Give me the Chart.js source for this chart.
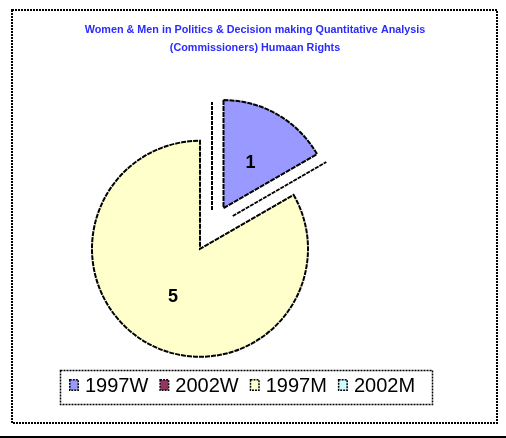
<!DOCTYPE html>
<html><head><meta charset="utf-8">
<script src="https://cdn.jsdelivr.net/npm/chart.js@4.4.1/dist/chart.umd.min.js"></script>
<style>html,body{margin:0;padding:0;background:#fff;overflow:hidden}canvas{display:block}</style>
</head><body>
<canvas id="c" width="506" height="438"></canvas>
<script>
// ---- data ----
const categories = ['1997W', '2002W', '1997M', '2002M'];
const values = [1, 0, 5, 0];
const sliceColors = ['#9999FF', '#993366', '#FFFFCC', '#CCFFFF'];
const titleLines = ['Women & Men in Politics & Decision making Quantitative Analysis', '(Commissioners) Humaan Rights'];

// ---- style ----
const EXPLODE = [23, 24, 24, 18];
const FONT = '"Liberation Sans", Arial, sans-serif';

const explodePlugin = {
  id: 'explode',
  beforeDatasetDraw(chart, args) {
    const ctx = chart.ctx;
    args.meta.data.forEach((arc, i) => {
      const mid = (arc.startAngle + arc.endAngle) / 2;
      const e = EXPLODE[i];
      ctx.save();
      ctx.translate(Math.cos(mid) * e, Math.sin(mid) * e);
      if (arc.circumference === 0) {
        ctx.beginPath();
        ctx.moveTo(arc.x, arc.y);
        ctx.lineTo(arc.x + Math.cos(arc.startAngle) * arc.outerRadius,
                   arc.y + Math.sin(arc.startAngle) * arc.outerRadius);
        ctx.lineWidth = 2;
        ctx.setLineDash([4, 1]);
        ctx.strokeStyle = '#000';
        ctx.stroke();
      } else {
        arc.draw(ctx);
      }
      ctx.restore();
    });
    return false;
  },
  afterDatasetsDraw(chart) {
    const ctx = chart.ctx;
    const meta = chart.getDatasetMeta(0);
    ctx.save();
    ctx.font = 'bold 18px ' + FONT;
    ctx.fillStyle = '#000';
    ctx.textAlign = 'center';
    ctx.textBaseline = 'middle';
    meta.data.forEach((arc, i) => {
      const v = chart.data.datasets[0].data[i];
      if (!v) return;
      const mid = (arc.startAngle + arc.endAngle) / 2;
      const e = EXPLODE[i];
      const p = arc.tooltipPosition();
      ctx.fillText(String(v), p.x + Math.cos(mid) * e, p.y + Math.sin(mid) * e + 1.5);
    });
    ctx.restore();
  },
  afterDraw(chart) {
    const ctx = chart.ctx;
    ctx.save();
    // outer frame
    ctx.strokeStyle = '#000';
    ctx.lineWidth = 2;
    ctx.setLineDash([2, 1]);
    ctx.strokeRect(12, 10, 485, 413);
    // bottom rule
    ctx.setLineDash([]);
    ctx.fillStyle = '#000';
    ctx.fillRect(0, 436, 506, 2);
    // title
    ctx.font = 'bold 10.8px ' + FONT;
    ctx.fillStyle = '#2B2BFF';
    ctx.textAlign = 'center';
    ctx.textBaseline = 'alphabetic';
    ctx.fillText(titleLines[0], 255, 33);
    ctx.fillText(titleLines[1], 255, 51);
    // legend
    ctx.lineWidth = 1.5;
    ctx.setLineDash([2, 1]);
    ctx.strokeStyle = '#000';
    ctx.strokeRect(60.5, 370.5, 372, 34);
    ctx.font = '20px ' + FONT;
    ctx.textAlign = 'left';
    let x = 69;
    categories.forEach((c, i) => {
      ctx.fillStyle = sliceColors[i];
      ctx.fillRect(x + 1, 380, 8, 10);
      ctx.lineWidth = 1.5;
      ctx.setLineDash([2, 1]);
      ctx.strokeStyle = '#000';
      ctx.strokeRect(x + 0.75, 379.75, 8.5, 10.5);
      ctx.fillStyle = '#000';
      ctx.fillText(c, x + 16, 392);
      x += 16 + ctx.measureText(c).width + 11;
    });
    ctx.restore();
  }
};

new Chart(document.getElementById('c'), {
  type: 'pie',
  data: {
    labels: categories,
    datasets: [{
      data: values,
      backgroundColor: sliceColors,
      borderColor: '#000',
      borderWidth: 2,
      borderDash: [5, 1],
      borderJoinStyle: 'miter'
    }]
  },
  options: {
    responsive: false,
    animation: false,
    devicePixelRatio: 1,
    radius: 108,
    layout: { padding: { left: 20, right: 102, top: 60, bottom: 42 } },
    plugins: { legend: { display: false }, title: { display: false }, tooltip: { enabled: false } }
  },
  plugins: [explodePlugin]
});
</script>
</body></html>
